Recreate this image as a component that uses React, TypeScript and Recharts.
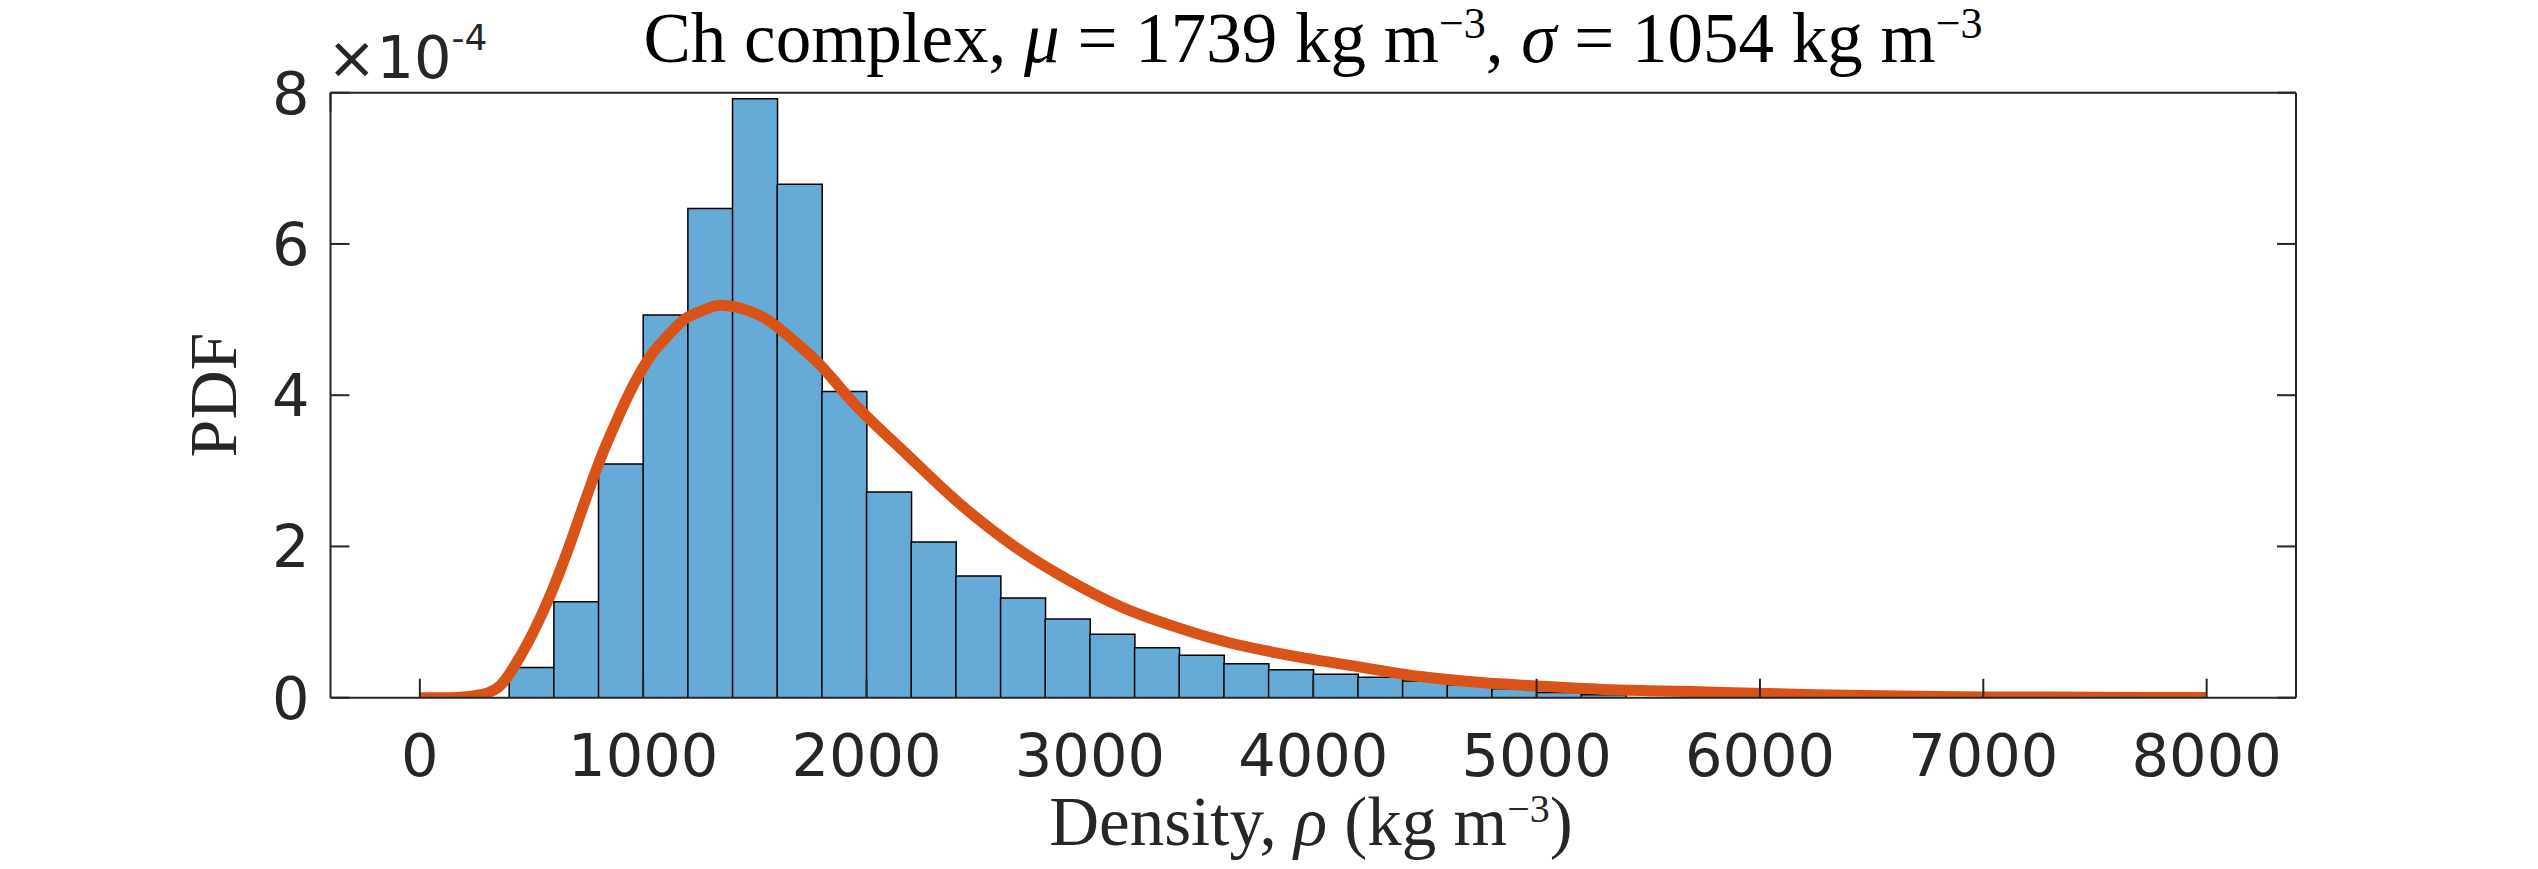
import React from 'react';
import { ComposedChart, Bar, Line, XAxis, YAxis } from 'recharts';

// Histogram bins (bin start, width 200 kg m^-3), PDF in units of 1e-4
const binStarts = [
  -400, -200, 0, 200, 400, 600, 800, 1000, 1200, 1400, 1600, 1800, 2000, 2200, 2400,
  2600, 2800, 3000, 3200, 3400, 3600, 3800, 4000, 4200, 4400, 4600, 4800, 5000, 5200,
  5400, 5600, 5800, 6000, 6200, 6400, 6600, 6800, 7000, 7200, 7400, 7600, 7800, 8000, 8200,
];
const binPdfE4: (number | null)[] = [
  null, null, null, null, 0.40, 1.27, 3.09, 5.06, 6.47, 7.92, 6.79, 4.05, 2.72, 2.06, 1.61,
  1.32, 1.04, 0.84, 0.66, 0.56, 0.45, 0.37, 0.31, 0.27, 0.22, 0.17, 0.12, 0.07, 0.04,
  null, null, null, null, null, null, null, null, null, null, null, null, null, null, null,
];

// Fitted PDF curve (density, PDF in units of 1e-4)
const curveX = [
  0, 150, 274, 363, 438, 512, 586, 661, 735, 810, 885, 959, 1033, 1108, 1183, 1257, 1346,
  1436, 1555, 1674, 1779, 1944, 2183, 2423, 2662, 2902, 3141, 3380, 3620, 3859, 4179, 4480,
  4752, 5023, 5294, 5565, 5836, 6242, 6783, 7300, 7733, 8000,
];
const curvePdfE4 = [
  0.0, 0.0, 0.04, 0.17, 0.49, 0.89, 1.37, 1.94, 2.56, 3.17, 3.69, 4.15, 4.52, 4.78, 5.0, 5.11,
  5.19, 5.15, 5.0, 4.72, 4.44, 3.89, 3.21, 2.55, 2.0, 1.56, 1.2, 0.94, 0.73, 0.58, 0.42, 0.28,
  0.2, 0.15, 0.11, 0.09, 0.07, 0.04, 0.015, 0.008, 0.004, 0.002,
];

const xTicks = [0, 1000, 2000, 3000, 4000, 5000, 6000, 7000, 8000];
const yTicks = [0, 2, 4, 6, 8];
const xDomain = [-400, 8400];
const yDomain = [0, 8];

const binData = binStarts.map((b, i) => ({ bin: b, pdf: binPdfE4[i] }));
const curveData = curveX.map((x, i) => ({ x, pdf: curvePdfE4[i] }));

const AXIS = '#262626';
const SANS = "'DejaVu Sans', sans-serif";
const SERIF = "'Liberation Serif', 'Times New Roman', serif";
const TICK_LEN = 19;
const TICK_FONT = 59;
const BOTTOM_GAP = 36;
const LEFT_GAP = 21;
const lineStyle = { stroke: AXIS, strokeWidth: 2 };

// Inward tick marks (MATLAB "box on" style) drawn at the positions the axis hands over
const BottomTick = (props: any) => {
  const { x, y, payload } = props;
  const axisY = y - BOTTOM_GAP;
  return (
    <g>
      <line x1={x} x2={x} y1={axisY} y2={axisY - TICK_LEN} stroke={AXIS} strokeWidth={2} />
      <text x={x} y={y} dy="0.71em" textAnchor="middle" fill={AXIS} fontSize={TICK_FONT} fontFamily={SANS}>
        {payload.value}
      </text>
    </g>
  );
};

const LeftTick = (props: any) => {
  const { x, y, payload } = props;
  const axisX = x + LEFT_GAP;
  return (
    <g>
      <line x1={axisX} x2={axisX + TICK_LEN} y1={y} y2={y} stroke={AXIS} strokeWidth={2} />
      <text x={x} y={y} dy="0.355em" textAnchor="end" fill={AXIS} fontSize={TICK_FONT} fontFamily={SANS}>
        {payload.value}
      </text>
    </g>
  );
};

const TopTick = (props: any) => {
  const { x, y } = props;
  return <line x1={x} x2={x} y1={y} y2={y + TICK_LEN} stroke={AXIS} strokeWidth={2} />;
};

const RightTick = (props: any) => {
  const { x, y } = props;
  return <line x1={x} x2={x - TICK_LEN} y1={y} y2={y} stroke={AXIS} strokeWidth={2} />;
};

export default function App() {
  return (
    <div style={{ position: 'absolute', left: 0, top: 0, width: 2538, height: 869, background: '#fff' }}>
      <ComposedChart
        width={2538}
        height={869}
        data={binData}
        margin={{ top: 91.7, right: 241, bottom: 71.3, left: 200.5 }}
        barCategoryGap={0}
        barGap={0}
      >
        <XAxis xAxisId="cat" dataKey="bin" type="category" hide height={0} />
        <Bar
          xAxisId="cat"
          yAxisId="left"
          dataKey="pdf"
          fill="#66AAD7"
          stroke="#000"
          strokeWidth={1.5}
          isAnimationActive={false}
        />
        <Line
          xAxisId="num"
          yAxisId="left"
          data={curveData}
          dataKey="pdf"
          type="monotone"
          stroke="#D95319"
          strokeWidth={11}
          strokeLinejoin="round"
          dot={false}
          activeDot={false}
          isAnimationActive={false}
        />
        <XAxis
          xAxisId="num"
          dataKey="x"
          type="number"
          domain={xDomain}
          ticks={xTicks}
          interval={0}
          allowDataOverflow
          height={100}
          tickSize={0}
          tickMargin={BOTTOM_GAP}
          tick={BottomTick}
          tickLine={false}
          axisLine={lineStyle}
        />
        <XAxis
          xAxisId="top"
          orientation="top"
          type="number"
          domain={xDomain}
          ticks={xTicks}
          interval={0}
          allowDataOverflow
          height={1}
          tickSize={0}
          tickMargin={0}
          tick={TopTick}
          tickLine={false}
          axisLine={lineStyle}
        />
        <YAxis
          yAxisId="left"
          type="number"
          domain={yDomain}
          ticks={yTicks}
          interval={0}
          allowDataOverflow
          width={130}
          tickSize={0}
          tickMargin={LEFT_GAP}
          tick={LeftTick}
          tickLine={false}
          axisLine={lineStyle}
        />
        <YAxis
          yAxisId="right"
          orientation="right"
          type="number"
          domain={yDomain}
          ticks={yTicks}
          interval={0}
          allowDataOverflow
          width={1}
          tickSize={0}
          tickMargin={0}
          tick={RightTick}
          tickLine={false}
          axisLine={lineStyle}
        />
        <text x={1313} y={62} textAnchor="middle" fontFamily={SERIF} fontSize={71} fill="#000">
          {'Ch complex, '}
          <tspan fontStyle="italic">μ</tspan>
          {' = 1739 kg m'}
          <tspan dy={-24} fontSize={44}>−3</tspan>
          <tspan dy={24}>{', '}</tspan>
          <tspan fontStyle="italic">σ</tspan>
          {' = 1054 kg m'}
          <tspan dy={-24} fontSize={44}>−3</tspan>
        </text>
        <text x={1311} y={845} textAnchor="middle" fontFamily={SERIF} fontSize={69} fill={AXIS}>
          {'Density, '}
          <tspan fontStyle="italic">ρ</tspan>
          {' (kg m'}
          <tspan dy={-23} fontSize={40}>−3</tspan>
          <tspan dy={23}>)</tspan>
        </text>
        <text
          x={236}
          y={395}
          textAnchor="middle"
          transform="rotate(-90, 236, 395)"
          fontFamily={SERIF}
          fontSize={68}
          fill={AXIS}
        >
          PDF
        </text>
        <text x={327} y={78} fontFamily={SANS} fontSize={59} fill={AXIS}>
          {'×10'}
          <tspan dy={-28} fontSize={36}>-4</tspan>
        </text>
      </ComposedChart>
    </div>
  );
}
